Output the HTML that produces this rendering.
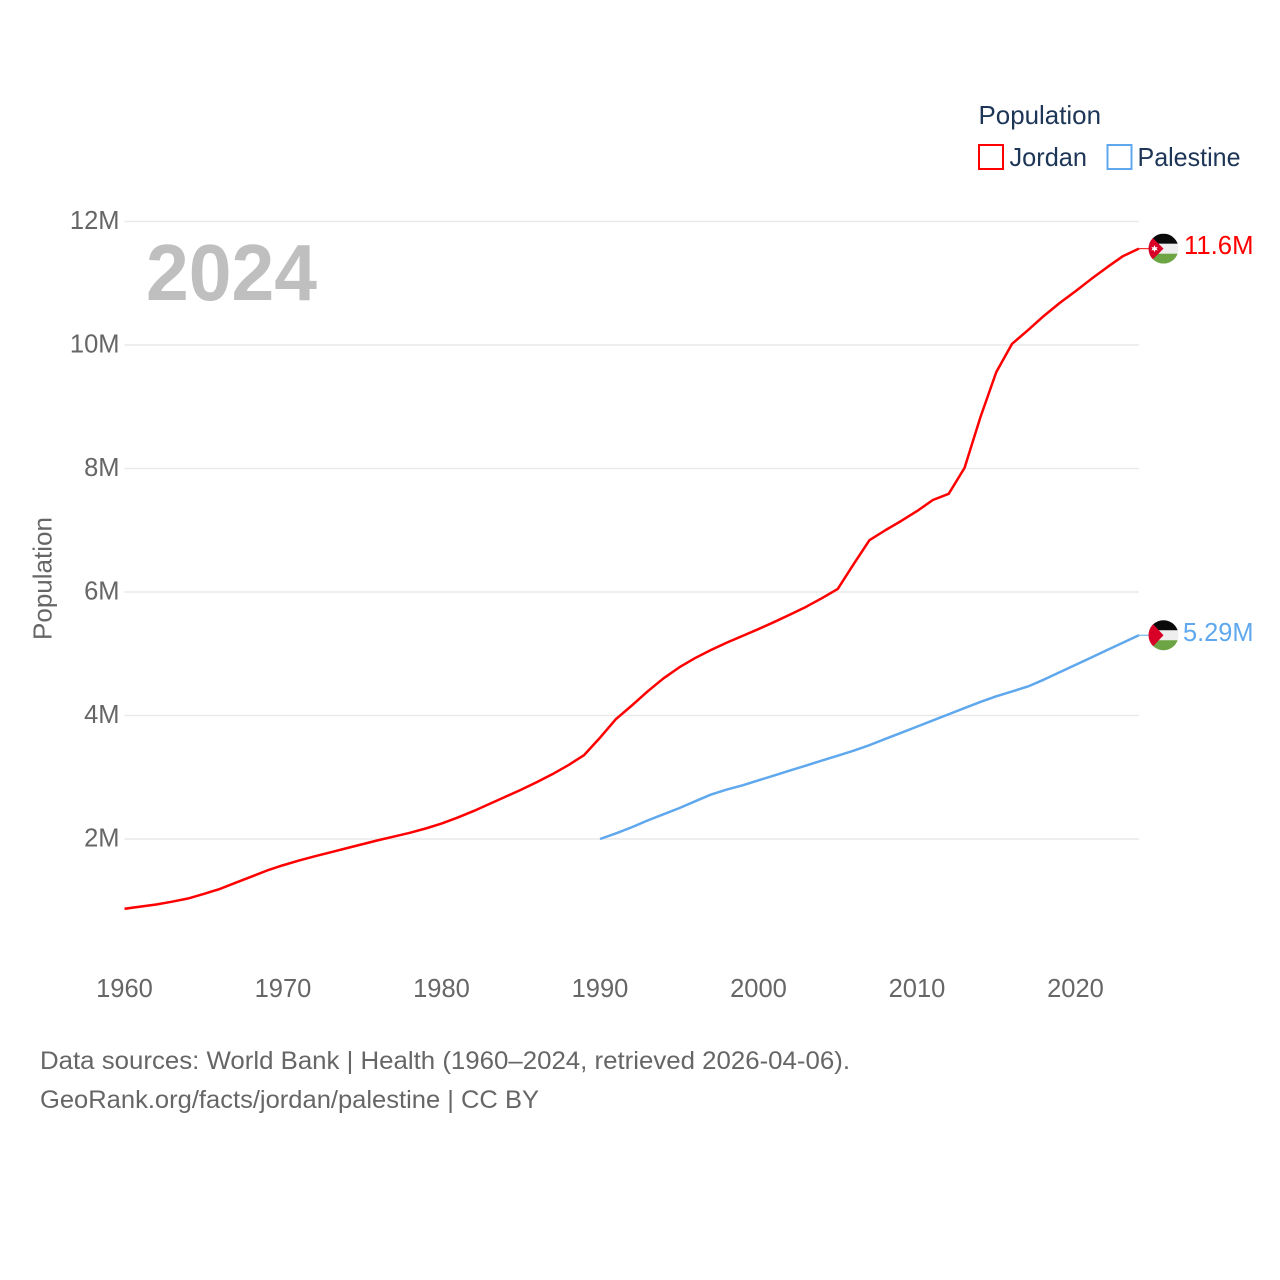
<!DOCTYPE html>
<html>
<head>
<meta charset="utf-8">
<title>Population: Jordan and Palestine</title>
<style>
  html, body { margin: 0; padding: 0; background: #fff; }
  svg { display: block; }
  text { font-family: "Liberation Sans", sans-serif; }
  .tick { font-size: 25.5px; fill: #666; }
  .legend { font-size: 26px; fill: #1d3557; }
  .source { font-size: 25px; fill: #666; }
</style>
</head>
<body>
<svg id="chart" xmlns="http://www.w3.org/2000/svg" width="1280" height="1280" viewBox="0 0 1280 1280">
  <defs>
    <clipPath id="flag-clip"><circle cx="0" cy="0" r="15"></circle></clipPath>
  </defs>
  <rect x="0" y="0" width="1280" height="1280" fill="#fff"></rect>
  <g id="grid"></g>
  <g id="y-ticks"></g>
  <g id="x-ticks"></g>

  <text x="146" y="300" font-size="80" font-weight="700" fill="#bfbfbf" textLength="171" lengthAdjust="spacingAndGlyphs">2024</text>

  <text class="legend" style="fill:#666" transform="translate(51.500,640) rotate(-90)" textLength="123" lengthAdjust="spacingAndGlyphs">Population</text>

  <g>
    <text class="legend" x="978.500" y="124" textLength="122.500" lengthAdjust="spacingAndGlyphs">Population</text>
    <rect x="979" y="145" width="24" height="24" fill="#fff" stroke="#ff0000" stroke-width="2"></rect>
    <text class="legend" x="1009.500" y="166" textLength="77.500" lengthAdjust="spacingAndGlyphs">Jordan</text>
    <rect x="1107.500" y="145" width="24" height="24" fill="#fff" stroke="#5fa8ee" stroke-width="2"></rect>
    <text class="legend" x="1137.500" y="166" textLength="103" lengthAdjust="spacingAndGlyphs">Palestine</text>
  </g>

  <g id="series"></g>

  <g id="flag-jordan">
    <g clip-path="url(#flag-clip)">
      <rect x="-15" y="-15" width="30" height="10.500" fill="#0a0a0a"></rect>
      <rect x="-15" y="-5" width="30" height="10" fill="#eeeeee"></rect>
      <rect x="-15" y="5" width="30" height="10" fill="#6da544"></rect>
      <polygon points="-15,-15 0,0 -15,15" fill="#d80027"></polygon>
      <polygon points="-9,-3.500 -8,-1.200 -5.800,-1.800 -7,0 -5.800,1.800 -8,1.200 -9,3.500 -10,1.200 -12.200,1.800 -11,0 -12.200,-1.800 -10,-1.200" fill="#ffffff"></polygon>
    </g>
  </g>
  <g id="flag-palestine">
    <g clip-path="url(#flag-clip)">
      <rect x="-15" y="-16" width="30" height="11.500" fill="#0a0a0a"></rect>
      <rect x="-15" y="-5" width="30" height="10" fill="#eeeeee"></rect>
      <rect x="-15" y="5" width="30" height="11" fill="#6da544"></rect>
      <polygon points="-15,-16 0,0 -15,16" fill="#d80027"></polygon>
    </g>
  </g>

  <text id="value-jordan" font-size="25.500" fill="#ff0000" x="1184" textLength="69.500" lengthAdjust="spacingAndGlyphs"></text>
  <text id="value-palestine" font-size="25.500" fill="#5fa8ee" x="1183" textLength="70.500" lengthAdjust="spacingAndGlyphs"></text>

  <text class="source" x="40" y="1069" textLength="810" lengthAdjust="spacingAndGlyphs">Data sources: World Bank | Health (1960–2024, retrieved 2026-04-06).</text>
  <text class="source" x="40" y="1108" textLength="499" lengthAdjust="spacingAndGlyphs">GeoRank.org/facts/jordan/palestine | CC BY</text>
</svg>

<script>
const yTickValues = [2, 4, 6, 8, 10, 12];
const yTickLabels = ['2M', '4M', '6M', '8M', '10M', '12M'];
const xTickYears = [1960, 1970, 1980, 1990, 2000, 2010, 2020];
const jordanStartYear = 1960;
const jordanValues = [
  0.87, 0.905, 0.94, 0.985, 1.036, 1.11, 1.19, 1.29, 1.39, 1.49,
  1.575, 1.65, 1.72, 1.785, 1.85, 1.915, 1.98, 2.04, 2.10, 2.17,
  2.25, 2.345, 2.45, 2.565, 2.68, 2.795, 2.92, 3.05, 3.195, 3.36,
  3.64, 3.94, 4.16, 4.39, 4.60, 4.78, 4.93, 5.06, 5.18, 5.29,
  5.40, 5.515, 5.635, 5.76, 5.90, 6.05, 6.45, 6.84, 7.00, 7.15,
  7.31, 7.49, 7.59, 8.01, 8.83, 9.56, 10.02, 10.24, 10.47, 10.68,
  10.87, 11.07, 11.26, 11.44, 11.56
];
const palestineStartYear = 1990;
const palestineValues = [
  2.00, 2.09, 2.19, 2.30, 2.40, 2.50, 2.61, 2.72, 2.80, 2.87,
  2.95, 3.03, 3.11, 3.19, 3.27, 3.35, 3.43, 3.52, 3.62, 3.72,
  3.82, 3.92, 4.02, 4.12, 4.22, 4.31, 4.39, 4.47, 4.58, 4.70,
  4.82, 4.94, 5.06, 5.18, 5.30
];
const jordanLabel = '11.6M';
const palestineLabel = '5.29M';

const NS = 'http://www.w3.org/2000/svg';
function xScale(year) { return 124.5 + (year - 1960) * 15.85; }
function yScale(value) { return 839 - (value - 2) * 61.75; }
function make(tag, parent) {
  const el = document.createElementNS(NS, tag);
  parent.appendChild(el);
  return el;
}

const gridGroup = document.getElementById('grid');
const yTickGroup = document.getElementById('y-ticks');
yTickValues.forEach(function (value, i) {
  const line = make('line', gridGroup);
  
  
  line.setAttribute('x1', xScale(1960));
  line.setAttribute('x2', xScale(2024));
  line.setAttribute('y1', yScale(value));
  line.setAttribute('y2', yScale(value));
  line.setAttribute('stroke', '#e9e9e9');
  line.setAttribute('stroke-width', '1.4');

  const label = make('text', yTickGroup);
  
  
  label.setAttribute('class', 'tick');
  label.setAttribute('x', 119.5);
  label.setAttribute('y', yScale(value) + 7.5);
  label.setAttribute('text-anchor', 'end');
  label.textContent = yTickLabels[i];
});

const xTickGroup = document.getElementById('x-ticks');
xTickYears.forEach(function (year) {
  const label = make('text', xTickGroup);
  
  
  label.setAttribute('class', 'tick');
  label.setAttribute('x', xScale(year));
  label.setAttribute('y', 997);
  label.setAttribute('text-anchor', 'middle');
  label.textContent = String(year);
});

function linePath(startYear, values) {
  return values.map(function (value, i) {
    return (i ? 'L' : 'M') + xScale(startYear + i).toFixed(2) + ' ' + yScale(value).toFixed(2);
  }).join(' ');
}

const seriesGroup = document.getElementById('series');

const jordanLine = make('path', seriesGroup);


jordanLine.setAttribute('d', linePath(jordanStartYear, jordanValues));
jordanLine.setAttribute('fill', 'none');
jordanLine.setAttribute('stroke', '#ff0000');
jordanLine.setAttribute('stroke-width', '2.5');
jordanLine.setAttribute('stroke-linejoin', 'round');

const palestineLine = make('path', seriesGroup);


palestineLine.setAttribute('d', linePath(palestineStartYear, palestineValues));
palestineLine.setAttribute('fill', 'none');
palestineLine.setAttribute('stroke', '#5fa8ee');
palestineLine.setAttribute('stroke-width', '2.5');
palestineLine.setAttribute('stroke-linejoin', 'round');

const jordanEndY = yScale(jordanValues[jordanValues.length - 1]);
const palestineEndY = yScale(palestineValues[palestineValues.length - 1]);

const jordanLeader = make('line', seriesGroup);


jordanLeader.setAttribute('x1', xScale(2024));
jordanLeader.setAttribute('x2', xScale(2024) + 10);
jordanLeader.setAttribute('y1', jordanEndY);
jordanLeader.setAttribute('y2', jordanEndY);
jordanLeader.setAttribute('stroke', '#ff0000');
jordanLeader.setAttribute('stroke-width', '1');

const palestineLeader = make('line', seriesGroup);


palestineLeader.setAttribute('x1', xScale(2024));
palestineLeader.setAttribute('x2', xScale(2024) + 10);
palestineLeader.setAttribute('y1', palestineEndY);
palestineLeader.setAttribute('y2', palestineEndY);
palestineLeader.setAttribute('stroke', '#5fa8ee');
palestineLeader.setAttribute('stroke-width', '1');

document.getElementById('flag-jordan').setAttribute('transform', 'translate(1163.5,' + jordanEndY + ')');
document.getElementById('flag-palestine').setAttribute('transform', 'translate(1163.5,' + palestineEndY + ')');

const jordanValueLabel = document.getElementById('value-jordan');
jordanValueLabel.setAttribute('y', jordanEndY + 5.5);
jordanValueLabel.textContent = jordanLabel;

const palestineValueLabel = document.getElementById('value-palestine');
palestineValueLabel.setAttribute('y', palestineEndY + 6);
palestineValueLabel.textContent = palestineLabel;
</script>
</body>
</html>
